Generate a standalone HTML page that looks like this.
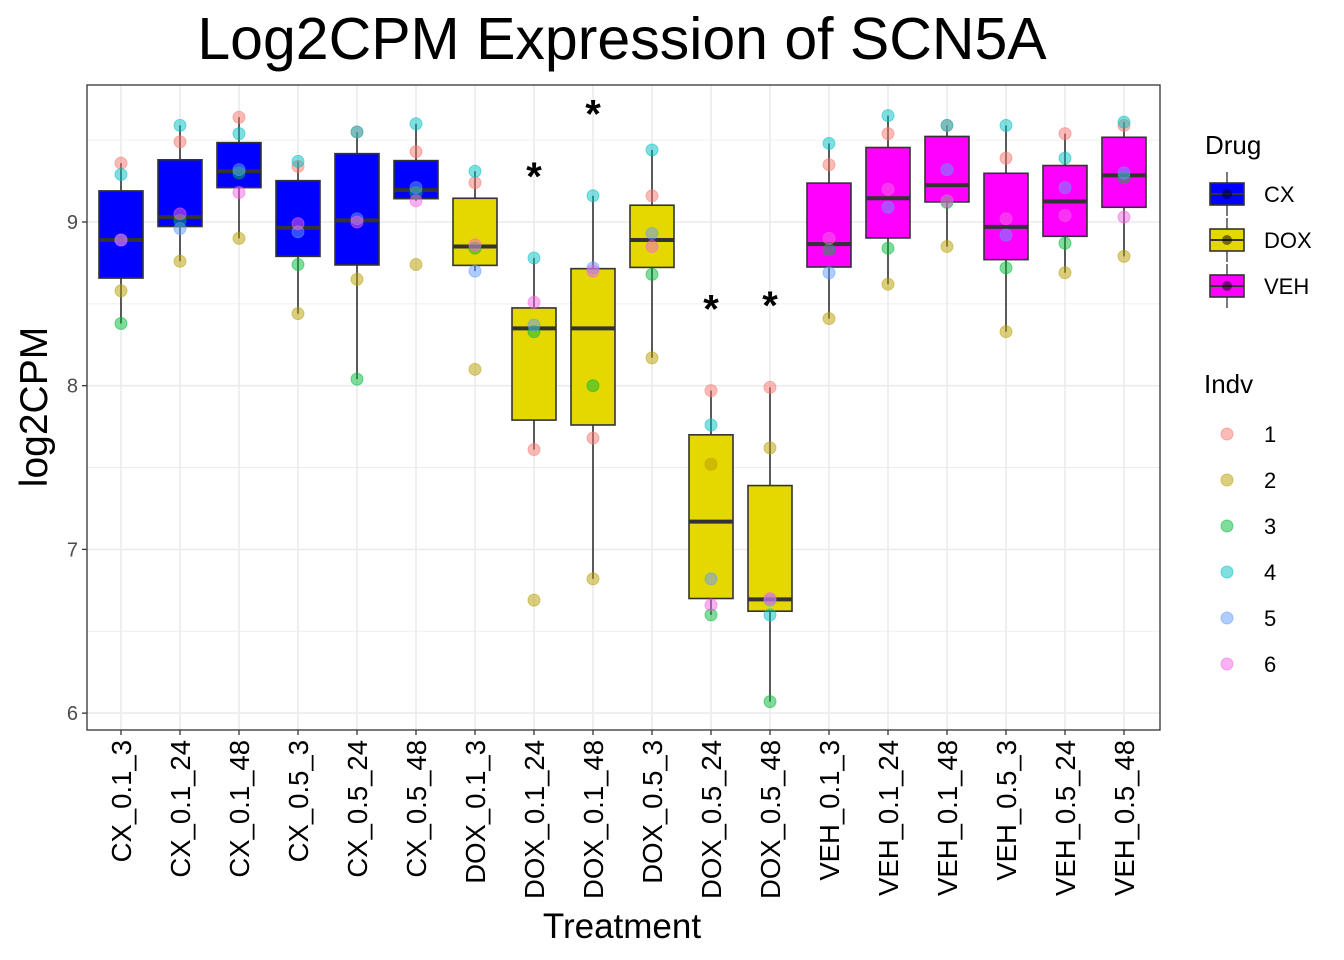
<!DOCTYPE html>
<html><head><meta charset="utf-8"><style>
body{margin:0;background:#fff;}
svg{display:block;font-family:"Liberation Sans",Arial,sans-serif;}
</style></head><body>
<svg id="chart" width="1344" height="960" xmlns="http://www.w3.org/2000/svg">
<text x="622" y="59" text-anchor="middle" font-size="59" fill="#000">Log2CPM Expression of SCN5A</text>
<text transform="translate(47,407) rotate(-90)" text-anchor="middle" font-size="39" fill="#000">log2CPM</text>
<text x="622" y="938" text-anchor="middle" font-size="35" fill="#000">Treatment</text>
<g id="grid"></g><g id="boxes"></g><g id="pts"></g><g id="axes"></g><g id="legend"></g>
</svg>
<script>
const categories=["CX_0.1_3","CX_0.1_24","CX_0.1_48","CX_0.5_3","CX_0.5_24","CX_0.5_48","DOX_0.1_3","DOX_0.1_24","DOX_0.1_48","DOX_0.5_3","DOX_0.5_24","DOX_0.5_48","VEH_0.1_3","VEH_0.1_24","VEH_0.1_48","VEH_0.5_3","VEH_0.5_24","VEH_0.5_48"];
const drugOf=["CX","CX","CX","CX","CX","CX","DOX","DOX","DOX","DOX","DOX","DOX","VEH","VEH","VEH","VEH","VEH","VEH"];
const ind1=[9.36,9.49,9.64,9.34,9.55,9.43,9.24,7.61,7.68,9.16,7.97,7.99,9.35,9.54,9.59,9.39,9.54,9.59];
const ind2=[8.58,8.76,8.90,8.44,8.65,8.74,8.10,6.69,6.82,8.17,7.52,7.62,8.41,8.62,8.85,8.33,8.69,8.79];
const ind3=[8.38,9.01,9.30,8.74,8.04,9.18,8.84,8.33,8.00,8.68,6.60,6.07,8.83,8.84,9.12,8.72,8.87,9.27];
const ind4=[9.29,9.59,9.54,9.37,9.55,9.60,9.31,8.78,9.16,9.44,7.76,6.60,9.48,9.65,9.59,9.59,9.39,9.61];
const ind5=[8.89,8.96,9.32,8.94,9.02,9.21,8.70,8.37,8.72,8.93,6.82,6.69,8.69,9.09,9.32,8.92,9.21,9.30];
const ind6=[8.89,9.05,9.18,8.99,9.00,9.13,8.86,8.51,8.70,8.85,6.66,6.70,8.90,9.20,9.13,9.02,9.04,9.03];
const significant=[0,0,0,0,0,0,0,1,1,0,1,1,0,0,0,0,0,0];
const yTicks=[6,7,8,9];
const drugs=["CX","DOX","VEH"];
const indLabels=["1","2","3","4","5","6"];

const NS="http://www.w3.org/2000/svg";
const drugCol={CX:"#0000ff",DOX:"#e5d700",VEH:"#ff00ff"};
const indCol=["#F8766D","#B79F00","#00BA38","#00BFC4","#619CFF","#F564E3"];
const PL=87,PR=1160,PT=85,PB=730;
const y=v=>222+(9-v)*163.7;
const x=i=>121+i*59;
function mk(p,tag,at){const e=document.createElementNS(NS,tag);for(const k in at)e.setAttribute(k,at[k]);p.appendChild(e);return e;}
const G=id=>document.getElementById(id);
function q(s,p){const h=(s.length-1)*p,l=Math.floor(h);return s[l]+(h-l)*((s[l+1]??s[l])-s[l]);}

const grid=G("grid");
for(let v=5.5;v<=10;v+=0.5){const yy=y(v);if(yy<PT||yy>PB)continue;
 const l=mk(grid,"line",{x1:PL,x2:PR,y1:yy,y2:yy,stroke:"#ebebeb","stroke-width":v%1===0?1.6:0.8});
 
 }
categories.forEach((c,i)=>{const l=mk(grid,"line",{x1:x(i),x2:x(i),y1:PT,y2:PB,stroke:"#ebebeb","stroke-width":1.6});
 
 });

const boxes=G("boxes"),pts=G("pts");
const all=[ind1,ind2,ind3,ind4,ind5,ind6];
categories.forEach((c,i)=>{
 const vals=all.map(a=>a[i]);const s=[...vals].sort((a,b)=>a-b);
 const q1=q(s,0.25),md=q(s,0.5),q3=q(s,0.75),iqr=q3-q1;
 const lo=Math.min(...s.filter(v=>v>=q1-1.5*iqr)),hi=Math.max(...s.filter(v=>v<=q3+1.5*iqr));
 const g=mk(boxes,"g",{});
 
 
 mk(g,"line",{x1:x(i),x2:x(i),y1:y(hi),y2:y(q3),stroke:"#333","stroke-width":1.6});
 mk(g,"line",{x1:x(i),x2:x(i),y1:y(q1),y2:y(lo),stroke:"#333","stroke-width":1.6});
 mk(g,"rect",{x:x(i)-22,y:y(q3),width:44,height:y(q1)-y(q3),fill:drugCol[drugOf[i]],stroke:"#333","stroke-width":1.6});
 mk(g,"line",{x1:x(i)-22,x2:x(i)+22,y1:y(md),y2:y(md),stroke:"#333","stroke-width":4});
 all.forEach((a,k)=>{const p=mk(pts,"circle",{cx:x(i),cy:y(a[i]),r:6,fill:indCol[k],"fill-opacity":0.5,stroke:indCol[k],"stroke-opacity":0.5});
  
  });
 if(significant[i]){const t=mk(pts,"text",{x:x(i),y:y(s[5]+0.52)+17,"text-anchor":"middle","font-size":40,"font-weight":"bold",fill:"#000"});t.textContent="*";
  
  }
});

const ax=G("axes");
const fr=mk(ax,"rect",{x:PL,y:PT,width:PR-PL,height:PB-PT,fill:"none",stroke:"#333","stroke-width":1.3});


yTicks.forEach(v=>{mk(ax,"line",{x1:PL-5,x2:PL,y1:y(v),y2:y(v),stroke:"#333","stroke-width":1.3});
 const t=mk(ax,"text",{x:PL-9,y:y(v)+7,"text-anchor":"end","font-size":20,fill:"#4d4d4d"});t.textContent=v;
 
 });
categories.forEach((c,i)=>{mk(ax,"line",{x1:x(i),x2:x(i),y1:PB,y2:PB+5,stroke:"#333","stroke-width":1.3});
 const t=mk(ax,"text",{transform:`translate(${x(i)+10},${PB+10}) rotate(-90)`,"text-anchor":"end","font-size":27.5,fill:"#000"});t.textContent=c;
 
 });

const lg=G("legend");
let t=mk(lg,"text",{x:1205,y:154,"font-size":26,fill:"#000"});t.textContent="Drug";


drugs.forEach((d,k)=>{const cy=194+k*46;const g=mk(lg,"g",{});
 
 
 mk(g,"line",{x1:1227,x2:1227,y1:cy-22,y2:cy+22,stroke:"#333","stroke-width":1.3});
 mk(g,"rect",{x:1210,y:cy-11,width:34,height:22,fill:drugCol[d],stroke:"#333","stroke-width":1.6});
 mk(g,"line",{x1:1210,x2:1244,y1:cy,y2:cy,stroke:"#333","stroke-width":2});
 mk(g,"circle",{cx:1227,cy:cy,r:5,fill:"#000","fill-opacity":0.5});
 const tt=mk(g,"text",{x:1264,y:cy+8,"font-size":22,fill:"#000"});tt.textContent=d;});
t=mk(lg,"text",{x:1204,y:393,"font-size":26,fill:"#000"});t.textContent="Indv";


indLabels.forEach((d,k)=>{const cy=434+k*46;const g=mk(lg,"g",{});
 
 
 mk(g,"circle",{cx:1227,cy:cy,r:6,fill:indCol[k],"fill-opacity":0.5,stroke:indCol[k],"stroke-opacity":0.5});
 const tt=mk(g,"text",{x:1264,y:cy+8,"font-size":22,fill:"#000"});tt.textContent=d;});
</script>
</body></html>
